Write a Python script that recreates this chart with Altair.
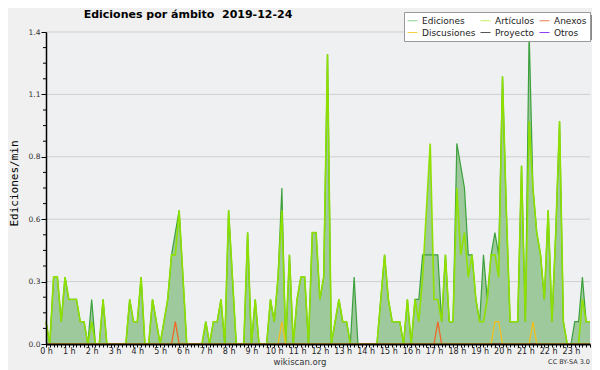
import altair as alt
import pandas as pd

# 10-minute bins over the day (144 bins), value = edits per minute
bins_per_hour = 6
n_bins = 144

ediciones = [
    0.1, 0.0, 0.3, 0.3, 0.1, 0.3, 0.2, 0.2, 0.2, 0.1,
    0.1, 0.0, 0.2, 0.0, 0.0, 0.2, 0.0, 0.0, 0.0, 0.0,
    0.0, 0.0, 0.2, 0.1, 0.1, 0.3, 0.0, 0.0, 0.2, 0.1,
    0.0, 0.1, 0.2, 0.4, 0.5, 0.6, 0.3, 0.0, 0.0, 0.0,
    0.0, 0.0, 0.1, 0.0, 0.1, 0.1, 0.2, 0.0, 0.6, 0.3,
    0.0, 0.0, 0.0, 0.5, 0.0, 0.2, 0.0, 0.0, 0.0, 0.2,
    0.1, 0.3, 0.7, 0.0, 0.4, 0.0, 0.2, 0.3, 0.3, 0.0,
    0.5, 0.5, 0.2, 0.3, 1.3, 0.0, 0.1, 0.2, 0.1, 0.1,
    0.0, 0.3, 0.0, 0.0, 0.0, 0.0, 0.0, 0.0, 0.2, 0.4,
    0.2, 0.1, 0.1, 0.1, 0.0, 0.2, 0.0, 0.2, 0.2, 0.4,
    0.4, 0.4, 0.4, 0.4, 0.1, 0.4, 0.1, 0.1, 0.9, 0.8,
    0.7, 0.4, 0.4, 0.2, 0.1, 0.4, 0.2, 0.4, 0.5, 0.4,
    1.2, 0.6, 0.1, 0.1, 0.1, 0.8, 0.1, 1.4, 0.7, 0.5,
    0.4, 0.2, 0.6, 0.1, 0.5, 1.0, 0.1, 0.0, 0.0, 0.1,
    0.1, 0.3, 0.1, 0.1,
]

articulos = [
    0.1, 0.0, 0.3, 0.3, 0.1, 0.3, 0.2, 0.2, 0.2, 0.1,
    0.1, 0.0, 0.1, 0.0, 0.0, 0.2, 0.0, 0.0, 0.0, 0.0,
    0.0, 0.0, 0.2, 0.1, 0.1, 0.3, 0.0, 0.0, 0.2, 0.1,
    0.0, 0.1, 0.2, 0.4, 0.4, 0.6, 0.3, 0.0, 0.0, 0.0,
    0.0, 0.0, 0.1, 0.0, 0.1, 0.1, 0.2, 0.0, 0.6, 0.3,
    0.0, 0.0, 0.0, 0.5, 0.0, 0.2, 0.0, 0.0, 0.0, 0.2,
    0.1, 0.3, 0.6, 0.0, 0.4, 0.0, 0.2, 0.3, 0.3, 0.0,
    0.5, 0.5, 0.2, 0.3, 1.3, 0.0, 0.1, 0.2, 0.1, 0.1,
    0.0, 0.0, 0.0, 0.0, 0.0, 0.0, 0.0, 0.0, 0.2, 0.4,
    0.2, 0.1, 0.1, 0.1, 0.0, 0.2, 0.0, 0.2, 0.1, 0.3,
    0.6, 0.9, 0.2, 0.2, 0.1, 0.4, 0.1, 0.1, 0.7, 0.4,
    0.5, 0.3, 0.4, 0.2, 0.1, 0.1, 0.2, 0.4, 0.4, 0.3,
    1.2, 0.6, 0.1, 0.1, 0.1, 0.8, 0.1, 1.0, 0.7, 0.5,
    0.4, 0.2, 0.6, 0.1, 0.5, 1.0, 0.1, 0.0, 0.0, 0.0,
    0.0, 0.2, 0.1, 0.1,
]

anexos = [
    0.0, 0.0, 0.0, 0.0, 0.0, 0.0, 0.0, 0.0, 0.0, 0.0,
    0.0, 0.0, 0.0, 0.0, 0.0, 0.0, 0.0, 0.0, 0.0, 0.0,
    0.0, 0.0, 0.0, 0.0, 0.0, 0.0, 0.0, 0.0, 0.0, 0.0,
    0.0, 0.0, 0.0, 0.0, 0.1, 0.0, 0.0, 0.0, 0.0, 0.0,
    0.0, 0.0, 0.0, 0.0, 0.0, 0.0, 0.0, 0.0, 0.0, 0.0,
    0.0, 0.0, 0.0, 0.0, 0.0, 0.0, 0.0, 0.0, 0.0, 0.0,
    0.0, 0.0, 0.0, 0.0, 0.0, 0.0, 0.0, 0.0, 0.0, 0.0,
    0.0, 0.0, 0.0, 0.0, 0.0, 0.0, 0.0, 0.0, 0.0, 0.0,
    0.0, 0.0, 0.0, 0.0, 0.0, 0.0, 0.0, 0.0, 0.0, 0.0,
    0.0, 0.0, 0.0, 0.0, 0.0, 0.0, 0.0, 0.0, 0.0, 0.0,
    0.0, 0.0, 0.0, 0.1, 0.0, 0.0, 0.0, 0.0, 0.0, 0.0,
    0.0, 0.0, 0.0, 0.0, 0.0, 0.0, 0.0, 0.0, 0.0, 0.0,
    0.0, 0.0, 0.0, 0.0, 0.0, 0.0, 0.0, 0.0, 0.0, 0.0,
    0.0, 0.0, 0.0, 0.0, 0.0, 0.0, 0.0, 0.0, 0.0, 0.0,
    0.0, 0.0, 0.0, 0.0,
]

discusiones = [
    0.0, 0.0, 0.0, 0.0, 0.0, 0.0, 0.0, 0.0, 0.0, 0.0,
    0.0, 0.0, 0.0, 0.0, 0.0, 0.0, 0.0, 0.0, 0.0, 0.0,
    0.0, 0.0, 0.0, 0.0, 0.0, 0.0, 0.0, 0.0, 0.0, 0.0,
    0.0, 0.0, 0.0, 0.0, 0.0, 0.0, 0.0, 0.0, 0.0, 0.0,
    0.0, 0.0, 0.0, 0.0, 0.0, 0.0, 0.0, 0.0, 0.0, 0.0,
    0.0, 0.0, 0.0, 0.0, 0.0, 0.0, 0.0, 0.0, 0.0, 0.0,
    0.0, 0.0, 0.1, 0.0, 0.0, 0.0, 0.0, 0.0, 0.0, 0.0,
    0.0, 0.0, 0.0, 0.0, 0.0, 0.0, 0.0, 0.0, 0.0, 0.0,
    0.0, 0.0, 0.0, 0.0, 0.0, 0.0, 0.0, 0.0, 0.0, 0.0,
    0.0, 0.0, 0.0, 0.0, 0.0, 0.0, 0.0, 0.0, 0.0, 0.0,
    0.0, 0.0, 0.0, 0.0, 0.0, 0.0, 0.0, 0.0, 0.0, 0.0,
    0.0, 0.0, 0.0, 0.0, 0.0, 0.0, 0.0, 0.0, 0.1, 0.1,
    0.0, 0.0, 0.0, 0.0, 0.0, 0.0, 0.0, 0.0, 0.1, 0.0,
    0.0, 0.0, 0.0, 0.0, 0.0, 0.0, 0.0, 0.0, 0.0, 0.0,
    0.0, 0.0, 0.0, 0.0,
]

serie_names = ["Ediciones", "Artículos", "Anexos", "Discusiones", "Proyecto", "Otros"]
legend_colors = ["#8fd08f", "#c8ee60", "#f08050", "#f2d040", "#555555", "#9040f0"]

y_major = [0.0, 0.28, 0.56, 0.84, 1.12, 1.4]
y_minor = [0.07, 0.14, 0.21, 0.35, 0.42, 0.49, 0.63, 0.70, 0.77,
           0.91, 0.98, 1.05, 1.19, 1.26, 1.33]
title_text = "Ediciones por ámbito\u00a0 2019-12-24"

# ---- build tables ----
hours = [i / bins_per_hour for i in range(n_bins)]
rows = []
for name, vals in [("Ediciones", ediciones), ("Artículos", articulos),
                   ("Anexos", anexos), ("Discusiones", discusiones)]:
    for h, v in zip(hours, vals):
        rows.append({"t": h, "value": v, "serie": name})
df = pd.DataFrame(rows)

FILL = "#9dc99d"
xscale = alt.Scale(domain=[0, hours[-1]], nice=False, zero=False)
yscale = alt.Scale(domain=[0, 1.4], nice=False, zero=True)

xaxis = alt.Axis(
    title="", values=hours, grid=False, zindex=1,
    labelExpr="abs(datum.value - round(datum.value)) < 0.001 ? round(datum.value) + ' h' : ''",
    labelOverlap=False, labelFlush=False, tickSize=3, tickColor="#000", tickWidth=1,
    domainColor="#000", domainWidth=2, labelFont="DejaVu Sans", labelFontSize=8,
    labelColor="#222", labelPadding=0,
)
yaxis = alt.Axis(
    title="Ediciones/min", values=y_major, grid=False, zindex=1,
    labelExpr="format(datum.value, '.1f')", labelFlush=False, labelOverlap=False,
    tickSize=5, tickColor="#000", tickWidth=1, domainColor="#000", domainWidth=1.5,
    labelFont="DejaVu Sans", labelFontSize=7.5, labelColor="#333", labelPadding=1,
    titleFont="DejaVu Sans Mono", titleFontSize=11, titleFontWeight="normal",
    titleColor="#000", titleAngle=270, titleX=-32, titleY=151,
    titleAlign="center", titleBaseline="middle",
)

x_enc = alt.X("t:Q", scale=xscale, axis=xaxis)
y_enc = alt.Y("value:Q", scale=yscale, axis=yaxis, stack=None)

base = alt.Chart(df)

grid = alt.Chart(pd.DataFrame({"value": y_major[1:]})).mark_rule(
    color="#cfcfcf", strokeWidth=1).encode(y=y_enc)

area_total = base.transform_filter(alt.datum.serie == "Ediciones").mark_area(
    color=FILL, opacity=1).encode(x=x_enc, y=y_enc)
area_art = base.transform_filter(alt.datum.serie == "Artículos").mark_area(
    color=FILL, opacity=1).encode(x=x_enc, y=y_enc)

line_total = base.transform_filter(alt.datum.serie == "Ediciones").mark_line(
    color="#3ca03c", strokeWidth=1.2).encode(x=x_enc, y=y_enc)
line_art = base.transform_filter(alt.datum.serie == "Artículos").mark_line(
    color="#8ee000", strokeWidth=1.6).encode(x=x_enc, y=y_enc)
line_anx = base.transform_filter(alt.datum.serie == "Anexos").mark_line(
    color="#ee6a28", strokeWidth=1.3).encode(x=x_enc, y=y_enc)
line_dis = base.transform_filter(alt.datum.serie == "Discusiones").mark_line(
    color="#f0c020", strokeWidth=1.3).encode(x=x_enc, y=y_enc)

legend_df = pd.DataFrame({"serie": serie_names, "t": [None] * 6, "value": [None] * 6})
legend_layer = alt.Chart(legend_df).mark_line(strokeWidth=1).encode(
    x=x_enc, y=y_enc,
    color=alt.Color("serie:N", scale=alt.Scale(domain=serie_names, range=legend_colors),
                    legend=alt.Legend(
                        title=None, orient="none", legendX=358, legendY=-20,
                        direction="horizontal", gridAlign="each",
                        columns=3, symbolType="stroke", symbolSize=100,
                        symbolStrokeWidth=1, labelFont="DejaVu Sans", labelFontSize=9,
                        labelColor="#222", labelOffset=4, columnPadding=2, rowPadding=1,
                        padding=3, fillColor="#ffffff", strokeColor="#999999",
                        labelLimit=0)),
)

shadow = alt.Chart(pd.DataFrame({"k": [1]})).mark_rect(color="#888888").encode(
    x=alt.value(361), x2=alt.value(551), y=alt.value(-17), y2=alt.value(8))

minor_ticks = alt.Chart(pd.DataFrame({"value": y_minor})).mark_rule(
    color="#000", strokeWidth=1).encode(y=y_enc, x=alt.value(-3), x2=alt.value(0))

title = alt.Chart(pd.DataFrame({"txt": [title_text]})).mark_text(
    font="DejaVu Sans", fontSize=11, fontWeight="bold", color="#000",
    align="center", baseline="alphabetic").encode(
    text="txt:N", x=alt.value(142), y=alt.value(-13.7))

credit = alt.Chart(pd.DataFrame({"txt": ["wikiscan.org"]})).mark_text(
    font="DejaVu Sans", fontSize=8.5, color="#333", align="center", baseline="middle").encode(
    text="txt:N", x=alt.value(254), y=alt.value(330))

lic = alt.Chart(pd.DataFrame({"txt": ["CC BY-SA 3.0"]})).mark_text(
    font="DejaVu Sans", fontSize=6.5, color="#333", align="right", baseline="middle").encode(
    text="txt:N", x=alt.value(544), y=alt.value(330))

chart = alt.layer(
    grid, area_total, area_art, line_total, line_art, line_anx, line_dis,
    legend_layer, shadow, minor_ticks, title, credit, lic,
).properties(
    width=544, height=312,
    padding={"left": 38, "top": 24, "right": 2, "bottom": 26},
    autosize=alt.AutoSizeParams(type="none"),
    background="#f0f0f0",
).configure_view(fill="#eef0f2", strokeOpacity=0)

chart.save("out.html", embed_options={"renderer": "svg", "actions": False})
